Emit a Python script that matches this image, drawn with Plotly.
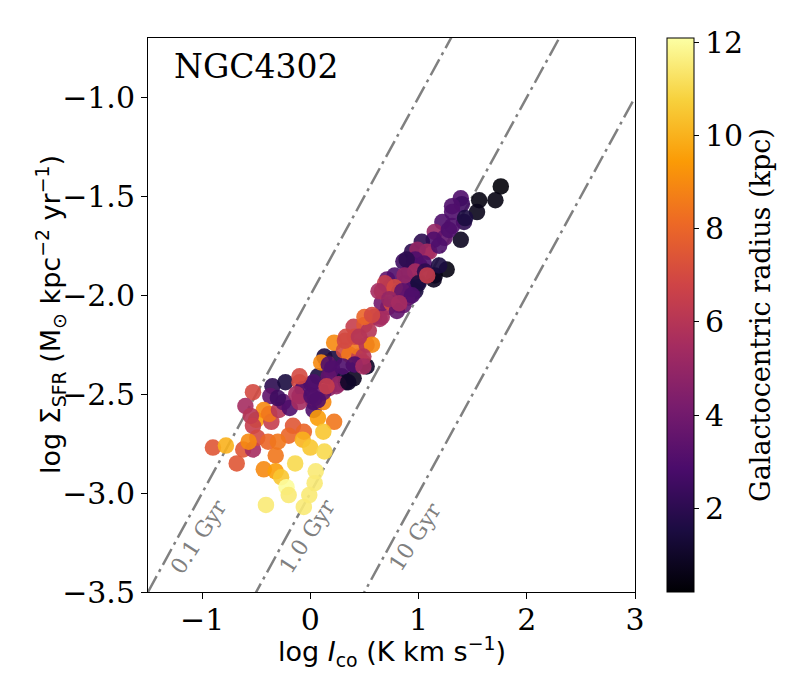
import numpy as np
import plotly.graph_objects as go

# log I_CO (K km/s), log Sigma_SFR, galactocentric radius (kpc)
log_ico = [
    -0.90, -0.78, -0.68, -0.62, -0.53, -0.53, -0.60, -0.35, -0.23, -0.37,
    -0.50, -0.43, -0.55, -0.53, -0.36, -0.38, -0.29, -0.25, -0.19, -0.10,
    -0.10, 0.01, 0.03, 0.03, 0.17, 0.12, 0.07, 0.22, -0.16, -0.20,
    -0.06, -0.49, -0.39, -0.30, -0.57, -0.32, -0.07, 0.00, 0.12, 0.13,
    -0.14, -0.43, -0.32, -0.27, 0.05, 0.04, -0.22, -0.20, -0.41, -0.06,
    -0.01,
    -0.30, -0.07, 0.07, 0.04, 0.12, 0.20, 0.29, 0.40, 0.40, 0.49,
    0.52, 0.22, 0.15, 0.22, 0.31, 0.36, 0.45, 0.43, 0.52, 0.40,
    0.41, 0.50, 0.54, 0.59, 0.66, 0.72, 0.66, 0.75, 0.86, 0.91,
    0.97, -0.13, 0.03, 0.24, 0.33, 0.30, -0.10, 0.32, 0.57, 0.64,
    0.50, 0.57, 0.82, 0.80, 0.66, 0.73, 0.71, 0.82, 0.89, 0.94,
    0.87, 0.86, 0.96, 1.01, 0.91, 1.00, 1.10, 0.94, 1.15, -0.10,
    0.13, 0.10, 0.33, 0.45, 0.49, 0.41, 0.49, 0.20, 0.17, 0.26,
    0.35, 0.15, 0.01, 0.07, 0.17,
    1.76, 1.71, 1.56, 1.54, 1.39, 1.26, 1.14, 1.39, 1.40, 1.31,
    1.31, 1.22, 1.42, 1.31, 1.15, 1.24, 1.14, 1.03, 1.08, 0.99,
    1.19, 0.97, 0.89, 1.05, 0.97, 1.19, 1.43, 1.28, 0.78, 0.87,
    1.06, 1.00, 0.69, 0.78, 0.85, 0.63, 0.73, 0.94, 0.82, 1.08,
]
log_sfr = [
    -2.77, -2.76, -2.85, -2.78, -2.78, -2.49, -2.56, -2.46, -2.44, -2.51,
    -2.63, -2.58, -2.61, -2.66, -2.64, -2.60, -2.58, -2.54, -2.57, -2.51,
    -2.44, -2.45, -2.54, -2.58, -2.47, -2.54, -2.62, -2.64, -2.66, -2.71,
    -2.69, -2.72, -2.74, -2.74, -2.74, -2.81, -2.73, -2.77, -2.69, -2.79,
    -2.85, -2.88, -2.89, -2.92, -2.89, -2.95, -2.97, -3.01, -3.06, -3.07,
    -3.01,
    -2.52, -2.475, -2.41, -2.52, -2.49, -2.40, -2.41, -2.42, -2.35, -2.34,
    -2.36, -2.32, -2.34, -2.24, -2.28, -2.30, -2.31, -2.26, -2.25, -2.16,
    -2.21, -2.15, -2.18, -2.11, -2.11, -2.06, -2.04, -2.04, -2.05, -2.01,
    -1.98, -2.50, -2.44, -2.46, -2.44, -2.36, -2.54, -2.23, -2.25, -2.12,
    -2.11, -2.10, -2.05, -2.08, -1.98, -1.96, -1.92, -1.98, -2.01, -1.97,
    -1.94, -1.83, -1.83, -1.85, -1.88, -1.93, -1.78, -1.78, -1.90, -2.41,
    -2.31, -2.34, -2.21, -2.21, -2.31, -2.35, -2.36, -2.37, -2.41, -2.45,
    -2.44, -2.46, -2.51, -2.53, -2.35,
    -1.45, -1.52, -1.52, -1.58, -1.72, -1.87, -1.92, -1.51, -1.54, -1.55,
    -1.58, -1.63, -1.63, -1.65, -1.68, -1.71, -1.72, -1.73, -1.78, -1.77,
    -1.75, -1.82, -1.82, -1.84, -1.88, -1.85, -1.61, -1.67, -1.90, -1.90,
    -1.88, -1.94, -1.94, -1.96, -1.98, -1.98, -2.02, -2.00, -2.04, -1.90,
]
radius = [
    7.5, 10, 7.5, 7.5, 5.5, 7, 5.5, 2, 1.5, 3.5,
    9.5, 9, 6, 6.5, 6.5, 8.5, 6, 3.5, 3, 5,
    7, 2.5, 2.5, 3, 5, 9, 9.5, 8.5, 7.5, 8,
    8, 7, 8, 8.5, 9, 8.5, 10, 10.5, 10.5, 11,
    11, 9, 9.5, 10.5, 11.5, 11.5, 12, 11.5, 11.5, 11.5,
    11.5,
    2.5, 3, 1.5, 3.5, 3.5, 3.5, 1.5, 0.8, 2, 6.5,
    1, 1.5, 9, 9, 7, 8.5, 6.5, 8.5, 6, 6.5,
    7, 7.5, 6, 6.5, 5.5, 5.5, 4, 7, 3.5, 3,
    1.5, 5.5, 3, 5, 1.3, 3, 5.5, 7, 9, 5.5,
    8, 7, 5, 3.5, 7.5, 7, 3.5, 3, 4, 3,
    3, 2.5, 2.5, 3, 3, 1.5, 5.5, 2, 0.6, 7,
    1.5, 9, 7, 6, 6, 3, 5.5, 3, 3.5, 5,
    1, 6.5, 3, 3, 3,
    0.3, 0.5, 0.5, 0.7, 0.8, 0.5, 0.8, 3, 2.5, 3,
    3, 3, 2, 3, 5, 3.5, 3, 2, 5.5, 5,
    3, 3, 2, 3, 5.5, 1.5, 1.5, 3, 3, 5,
    2, 1.5, 6.5, 7, 3.5, 5.5, 5, 3, 5.5, 6.5,
]

# constant depletion times (Gyr)
tau_dep = [0.1, 1.0, 10]
tau_labels = ['0.1 Gyr', '1.0 Gyr', '10 Gyr']

serif = 'DejaVu Serif'
sans = 'DejaVu Sans'

fig = go.Figure()

# depletion time lines
x_line = np.array([-1.5, 3.0])
for tau in tau_dep:
    fig.add_trace(go.Scatter(
        x=x_line, y=x_line - 3 - np.log10(tau),
        mode='lines',
        line=dict(color='gray', width=2.5, dash='18px,5px,3px,5px'),
        hoverinfo='skip', showlegend=False,
    ))

fig.add_trace(go.Scatter(
    x=log_ico, y=log_sfr,
    mode='markers',
    marker=dict(
        size=16.5,
        color=radius,
        colorscale='Inferno',
        cmin=0.2, cmax=12.1,
        opacity=0.9,
        line=dict(width=0),
        colorbar=dict(
            x=1.066, xanchor='left', xpad=0,
            y=0.5, yanchor='middle', ypad=0,
            len=1, lenmode='fraction',
            thickness=27,
            outlinewidth=1, outlinecolor='black',
            ticks='outside', ticklen=5, tickcolor='black',
            tickvals=[2, 4, 6, 8, 10, 12],
            tickfont=dict(family=serif, size=30, color='black'),
            title=dict(text='Galactocentric radius (kpc)', side='right',
                       font=dict(family=serif, size=27, color='black')),
        ),
    ),
    showlegend=False,
))

# labels along the lines
y_lab = -3.22
for tau, lab in zip(tau_dep, tau_labels):
    fig.add_annotation(
        x=y_lab + 3 + np.log10(tau) + 0.19, y=y_lab,
        text=lab, showarrow=False, textangle=-57,
        font=dict(family=serif, size=22, color='gray'),
    )

fig.add_annotation(
    x=0.049, y=0.949, xref='paper', yref='paper',
    xanchor='left', yanchor='middle',
    text='NGC4302', showarrow=False,
    font=dict(family=serif, size=33, color='black'),
)

# axis titles placed as annotations
fig.add_annotation(
    x=0.5, y=-0.108, xref='paper', yref='paper',
    xanchor='center', yanchor='middle', showarrow=False,
    text='log <i>I</i><sub>co</sub> (K km s<sup>−1</sup>)',
    font=dict(family=sans, size=27, color='black'),
)
fig.add_annotation(
    x=-0.201, y=0.5, xref='paper', yref='paper',
    xanchor='center', yanchor='middle', showarrow=False, textangle=-90,
    text='log Σ<sub>SFR</sub> (M<sub>⊙</sub> kpc<sup>−2</sup> yr<sup>−1</sup>)',
    font=dict(family=sans, size=27, color='black'),
)

axis_style = dict(
    showline=True, linecolor='black', linewidth=1, mirror=True,
    ticks='outside', ticklen=6, tickcolor='black',
    showgrid=False, zeroline=False,
    tickfont=dict(family=serif, size=30, color='black'),
)

fig.update_layout(
    width=800, height=700,
    margin=dict(l=140, r=173, t=30, b=116),
    paper_bgcolor='white', plot_bgcolor='white',
    xaxis=dict(
        range=[-1.5, 3], tickvals=[-1, 0, 1, 2, 3],
        ticklabelstandoff=-5,
        **axis_style,
    ),
    yaxis=dict(
        range=[-3.5, -0.7], tickvals=[-3.5, -3.0, -2.5, -2.0, -1.5, -1.0],
        tickformat='.1f',
        **axis_style,
    ),
)

fig.write_html('out.html')
